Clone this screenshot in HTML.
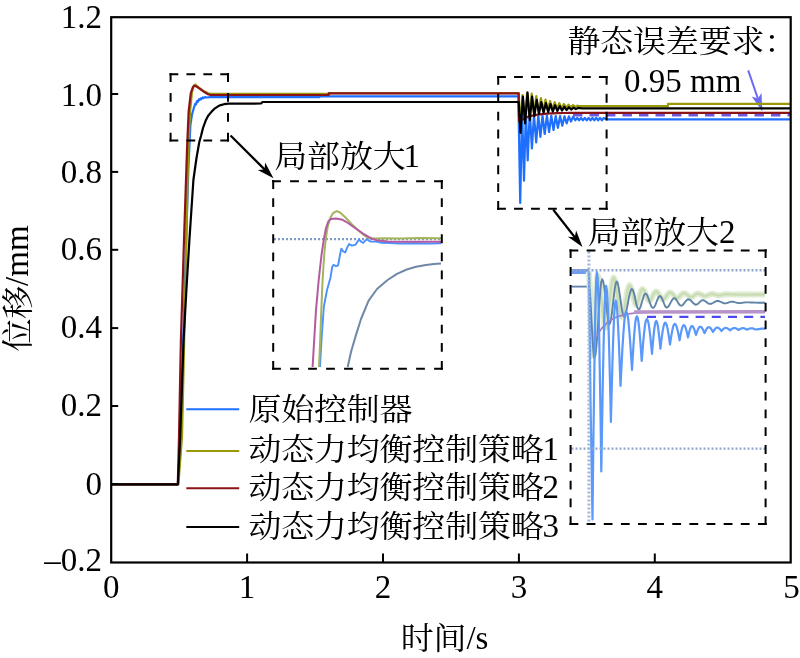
<!DOCTYPE html>
<html lang="zh"><head><meta charset="utf-8"><title>位移-时间</title>
<style>html,body{margin:0;padding:0;background:#fff;}body{width:800px;height:658px;overflow:hidden;}svg{display:block;}text{font-family:"Liberation Serif", "Noto Serif CJK SC", serif;fill:#000;}</style>
</head><body>
<svg width="800" height="658" viewBox="0 0 800 658">
<rect width="800" height="658" fill="#ffffff"/>
<path d="M748.2 70.4 L758.2 99.5" stroke="#6b6bf0" stroke-width="2.0"/>
<path d="M762.3 111.3 L751.7 96.5 L757.9 98.5 L761.5 93.1 Z" fill="#6b6bf0"/>
<path d="M111.2 484.3 L178.2 484.3 L181.5 400.0 L185.3 270.0 L188.3 170.0 L190.4 125.0 L192.0 114.5 L194.2 106.8 L195.2 103.8 L196.0 104.4 L197.0 101.2 L197.8 101.8 L198.8 99.4 L199.6 100.1 L200.6 98.3 L201.6 99.0 L202.6 97.5 L203.6 98.1 L205.0 97.1 L207.0 97.5 L210.0 97.2 L319.4 97.2 L319.4 96.3 L518.7 96.3 L518.7 118.0 L520.2 203.0 L522.1 110.8 L524.0 180.6 L525.9 110.8 L527.7 160.4 L529.8 110.8 L531.9 148.5 L534.0 114.9 L536.2 142.3 L538.3 115.1 L540.4 137.0 L542.5 115.3 L544.7 134.0 L546.9 115.5 L549.1 132.0 L551.3 115.6 L553.5 130.0 L555.7 115.8 L557.9 127.9 L560.1 116.0 L562.3 125.7 L564.5 116.2 L566.7 123.4 L568.9 116.4 L571.0 121.6 L573.1 116.6 L575.3 120.3 L577.2 117.9 L579.1 120.3 L581.0 117.9 L582.9 120.3 L584.8 117.9 L586.7 120.3 L588.6 117.9 L590.5 120.3 L592.4 117.9 L594.3 120.3 L596.2 117.9 L598.1 120.3 L600.0 117.9 L601.9 120.3 L603.8 117.9 L607.0 119.4 L790.7 119.4" fill="none" stroke="#1f6fff" stroke-width="2.20" stroke-linejoin="round" stroke-linecap="butt" />
<path d="M573 115.2 L790.7 115.2" stroke="#6a5ae0" stroke-width="2.4" stroke-dasharray="9.4 7.1" fill="none"/>
<path d="M111.2 484.3 L178.4 484.3 L182.0 437.0 L184.2 340.0 L186.3 240.0 L188.3 150.0 L190.0 112.0 L192.0 92.0 L194.0 85.2 L195.5 84.6 L197.0 86.0 L200.0 88.5 L204.0 91.3 L208.0 93.2 L211.0 93.9 L328.7 93.9 L328.7 93.2 L518.7 93.2 L520.1 126.2 L522.5 95.2 L524.8 120.2 L527.1 93.2 L529.4 117.2 L531.7 93.7 L534.0 114.2 L536.3 96.2 L538.6 112.2 L540.9 98.2 L543.2 111.0 L545.5 99.7 L547.8 110.2 L550.1 101.0 L552.4 109.5 L554.7 102.2 L557.0 108.8 L559.3 103.2 L561.6 108.2 L563.9 104.0 L566.2 107.7 L568.5 104.7 L570.8 107.2 L573.1 105.2 L575.4 106.8 L577.7 105.6 L578.0 106.2 L668.0 106.2 L668.0 103.8 L790.7 103.8" fill="none" stroke="#99990a" stroke-width="2.20" stroke-linejoin="round" stroke-linecap="butt" />
<path d="M111.2 484.3 L177.8 484.3 L179.0 437.0 L180.9 340.0 L184.0 240.0 L187.0 150.0 L188.6 112.0 L190.8 93.0 L193.0 86.8 L194.5 85.8 L196.5 86.5 L200.0 88.8 L204.0 91.8 L208.0 94.2 L210.5 95.0 L328.7 95.0 L328.7 93.4 L518.7 93.4 L518.7 110.0 L519.2 121.3 L520.2 120.6 L521.2 120.0 L522.2 119.4 L523.2 118.9 L524.2 118.4 L525.2 118.0 L526.2 117.5 L527.2 117.2 L528.2 116.8 L529.2 116.5 L530.2 116.2 L531.2 115.9 L532.2 115.7 L533.2 115.4 L534.2 115.2 L535.2 115.0 L536.2 114.9 L537.2 114.7 L538.2 114.5 L539.2 114.4 L540.2 114.3 L541.2 114.2 L542.2 114.1 L543.2 114.0 L544.2 113.9 L545.2 113.8 L546.2 113.7 L547.2 113.6 L548.2 113.6 L549.2 113.5 L550.2 113.4 L551.2 113.4 L552.2 113.3 L553.2 113.3 L554.2 113.3 L555.2 113.2 L556.2 113.2 L557.2 113.2 L558.2 113.1 L559.2 113.1 L560.2 113.1 L561.2 113.1 L562.2 113.0 L563.2 113.0 L564.2 113.0 L565.2 113.0 L566.2 113.0 L567.2 113.0 L568.2 112.9 L790.7 112.8" fill="none" stroke="#8b1418" stroke-width="2.20" stroke-linejoin="round" stroke-linecap="butt" />
<path d="M111.2 484.3 L177.9 484.3 L180.2 437.0 L183.6 340.0 L186.4 290.0 L189.4 240.0 L193.4 180.0 L196.5 158.0 L199.3 142.0 L201.0 136.0 L203.0 128.0 L205.6 120.8 L208.0 116.0 L211.6 111.6 L215.0 108.3 L218.0 106.3 L220.8 105.1 L224.0 104.2 L228.4 103.7 L261.0 103.5 L262.5 102.0 L518.7 102.0 L520.5 132.8 L522.9 96.7 L525.1 123.3 L527.5 92.4 L529.8 120.1 L532.1 96.7 L534.4 116.1 L536.7 99.9 L539.0 113.9 L541.3 102.0 L543.6 112.8 L545.9 103.1 L548.2 112.1 L550.5 104.1 L552.8 111.6 L555.1 105.2 L557.4 111.1 L559.7 106.1 L562.0 110.6 L564.3 106.7 L566.6 110.1 L568.9 107.2 L571.2 109.6 L573.5 107.6 L575.8 109.1 L578.1 107.9 L582.0 108.3 L790.7 108.3" fill="none" stroke="#000000" stroke-width="2.20" stroke-linejoin="round" stroke-linecap="butt" />
<rect x="111.2" y="17.2" width="679.5" height="545.3" fill="none" stroke="#000" stroke-width="2.2"/>
<path d="M111.2 94.0 h7" stroke="#000" stroke-width="2"/>
<path d="M111.2 171.9 h7" stroke="#000" stroke-width="2"/>
<path d="M111.2 249.8 h7" stroke="#000" stroke-width="2"/>
<path d="M111.2 328.1 h7" stroke="#000" stroke-width="2"/>
<path d="M111.2 406.0 h7" stroke="#000" stroke-width="2"/>
<path d="M111.2 484.0 h7" stroke="#000" stroke-width="2"/>
<path d="M247.1 562.5 v-9" stroke="#000" stroke-width="2"/>
<path d="M383.0 562.5 v-9" stroke="#000" stroke-width="2"/>
<path d="M518.9 562.5 v-9" stroke="#000" stroke-width="2"/>
<path d="M654.8 562.5 v-9" stroke="#000" stroke-width="2"/>
<text x="102" y="27.6" font-size="33" text-anchor="end">1.2</text>
<text x="102" y="106.0" font-size="33" text-anchor="end">1.0</text>
<text x="102" y="183.0" font-size="33" text-anchor="end">0.8</text>
<text x="102" y="260.0" font-size="33" text-anchor="end">0.6</text>
<text x="102" y="338.4" font-size="33" text-anchor="end">0.4</text>
<text x="102" y="416.2" font-size="33" text-anchor="end">0.2</text>
<text x="102" y="495.2" font-size="33" text-anchor="end">0</text>
<text x="102" y="571.3" font-size="33" text-anchor="end">–0.2</text>
<text x="111.2" y="597.7" font-size="33" text-anchor="middle">0</text>
<text x="247.1" y="597.7" font-size="33" text-anchor="middle">1</text>
<text x="383.0" y="597.7" font-size="33" text-anchor="middle">2</text>
<text x="518.9" y="597.7" font-size="33" text-anchor="middle">3</text>
<text x="654.8" y="597.7" font-size="33" text-anchor="middle">4</text>
<text x="791.5" y="597.7" font-size="33" text-anchor="middle">5</text>
<text transform="translate(400.8 648.5) scale(1 0.940)" font-size="33" letter-spacing="-0.2">时间</text>
<text transform="translate(400.8 648.5)" x="65.6" font-size="33">/s</text>
<text transform="translate(29.2 351.5) rotate(-90) scale(1 0.960)" font-size="33" letter-spacing="-0.2">位移</text>
<text transform="translate(28.2 285.9) rotate(-90) scale(1 1.040)" x="0.0" font-size="33">/mm</text>
<path d="M186.3 409.3 H239.2" stroke="#1f6fff" stroke-width="2"/>
<text transform="translate(248.4 419.8) scale(1 0.940)" font-size="33" letter-spacing="-0.2">原始控制器</text>
<path d="M186.3 451.0 H239.2" stroke="#99990a" stroke-width="2"/>
<text transform="translate(248.4 459.8) scale(1 0.940)" font-size="33" letter-spacing="-0.2">动态力均衡控制策略</text>
<text transform="translate(248.4 459.8)" x="294.2" font-size="33">1</text>
<path d="M186.3 488.3 H239.2" stroke="#8b1418" stroke-width="2"/>
<text transform="translate(248.4 497.8) scale(1 0.940)" font-size="33" letter-spacing="-0.2">动态力均衡控制策略</text>
<text transform="translate(248.4 497.8)" x="294.2" font-size="33">2</text>
<path d="M186.3 526.9 H239.2" stroke="#000000" stroke-width="2"/>
<text transform="translate(248.4 537.3) scale(1 0.940)" font-size="33" letter-spacing="-0.2">动态力均衡控制策略</text>
<text transform="translate(248.4 537.3)" x="294.2" font-size="33">3</text>
<text transform="translate(567.5 52.0) scale(1 0.940)" font-size="33" letter-spacing="-0.2">静态误差要求：</text>
<text transform="translate(624.0 91.8)" x="0.0" font-size="33">0.95 mm</text>
<text transform="translate(274.3 166.8) scale(1 0.940)" font-size="33" letter-spacing="-0.2">局部放大</text>
<text transform="translate(274.3 166.8)" x="129.2" font-size="33">1</text>
<text transform="translate(587.7 243.0) scale(1 0.940)" font-size="33" letter-spacing="-0.2">局部放大</text>
<text transform="translate(587.7 243.0)" x="131.2" font-size="33">2</text>
<path d="M169.5 74.2 L229.1 74.2" stroke="#000" stroke-width="2.0" stroke-dasharray="8.80 8.13" fill="none"/>
<path d="M169.5 140.5 L229.1 140.5" stroke="#000" stroke-width="2.0" stroke-dasharray="8.80 8.13" fill="none"/>
<path d="M170.6 73.1 L170.6 141.6" stroke="#000" stroke-width="2.0" stroke-dasharray="8.80 11.10" fill="none"/>
<path d="M228.0 73.1 L228.0 141.6" stroke="#000" stroke-width="2.0" stroke-dasharray="8.80 11.10" fill="none"/>
<path d="M497.1 77.1 L607.7 77.1" stroke="#000" stroke-width="2.0" stroke-dasharray="8.80 8.17" fill="none"/>
<path d="M497.1 208.8 L607.7 208.8" stroke="#000" stroke-width="2.0" stroke-dasharray="8.80 8.17" fill="none"/>
<path d="M498.2 76.0 L498.2 209.9" stroke="#000" stroke-width="2.0" stroke-dasharray="8.80 9.07" fill="none"/>
<path d="M606.6 76.0 L606.6 209.9" stroke="#000" stroke-width="2.0" stroke-dasharray="8.80 9.07" fill="none"/>
<path d="M230.5 135.5 L265.3 170.1" stroke="#000" stroke-width="2.2"/>
<path d="M273.5 178.2 L257.8 169.9 L264.6 169.4 L265.1 162.5 Z" fill="#000"/>
<path d="M553.3 209.8 L575.4 238.0" stroke="#000" stroke-width="2.2"/>
<path d="M582.5 247.0 L567.9 236.8 L574.8 237.2 L576.1 230.4 Z" fill="#000"/>
<g>
<path d="M274 239.2 H441" stroke="#7f9cc4" stroke-width="2.3" stroke-dasharray="2 2"/>
<path d="M347.7 367.0 L351.0 352.0 L355.7 335.9 L361.0 319.0 L368.5 300.8 L377.0 289.0 L387.6 280.0 L397.0 273.8 L406.7 269.5 L416.0 266.8 L425.9 265.0 L434.0 264.0 L441.0 263.5" fill="none" stroke="#6f88a8" stroke-width="2.00" stroke-linejoin="round" stroke-linecap="butt" />
<path d="M320.0 367.0 L321.5 340.0 L323.8 307.0 L327.0 290.0 L330.4 278.0 L332.2 267.0 L333.6 264.8 L336.0 266.2 L338.1 265.4 L339.8 256.0 L341.3 248.6 L343.3 251.5 L345.2 252.5 L347.2 247.5 L349.1 244.1 L352.0 245.6 L355.6 244.7 L357.5 241.5 L359.4 239.8 L361.5 242.0 L363.3 242.8 L365.2 240.5 L367.2 239.2 L369.0 240.8 L371.0 241.6 L376.0 241.6 L382.0 242.8 L390.0 243.0 L400.0 243.5 L415.0 243.2 L430.0 243.6 L441.0 243.2" fill="none" stroke="#4a90ff" stroke-width="1.90" stroke-linejoin="round" stroke-linecap="butt" />
<path d="M319.0 367.0 L320.2 340.0 L321.3 310.0 L322.6 280.0 L324.2 255.0 L325.8 239.0 L327.6 227.0 L330.0 218.5 L333.0 213.2 L336.8 211.1 L340.0 212.5 L345.0 217.0 L352.0 224.5 L360.7 232.5 L366.0 236.6 L369.8 238.3 L374.8 238.6 L385.0 238.2 L400.0 238.5 L420.0 238.0 L441.0 238.2" fill="none" stroke="#a3b55a" stroke-width="2.00" stroke-linejoin="round" stroke-linecap="butt" />
<path d="M312.6 367.0 L314.2 340.0 L316.0 310.0 L318.7 280.0 L321.5 255.0 L323.9 239.0 L326.0 228.0 L328.3 221.5 L331.0 218.9 L336.0 218.4 L342.6 219.8 L348.0 223.0 L355.0 228.0 L363.0 233.5 L369.0 237.2 L372.4 238.9 L378.0 240.6 L388.0 241.5 L400.0 241.8 L441.0 241.8" fill="none" stroke="#b35aa0" stroke-width="2.00" stroke-linejoin="round" stroke-linecap="butt" />
</g>
<path d="M272.1 181.2 L442.9 181.2" stroke="#000" stroke-width="2.0" stroke-dasharray="8.80 9.20" fill="none"/>
<path d="M272.1 368.7 L442.9 368.7" stroke="#000" stroke-width="2.0" stroke-dasharray="8.80 9.20" fill="none"/>
<path d="M273.2 180.1 L273.2 369.8" stroke="#000" stroke-width="2.0" stroke-dasharray="8.80 9.29" fill="none"/>
<path d="M441.8 180.1 L441.8 369.8" stroke="#000" stroke-width="2.0" stroke-dasharray="8.80 9.29" fill="none"/>
<g>
<path d="M571.5 271.5 H589" stroke="#6f9cf0" stroke-width="5"/>
<path d="M571.5 286.6 H589" stroke="#5f7fa8" stroke-width="1.8"/>
<path d="M588.6 271.5 L589.1 274.7 L589.7 283.9 L590.2 297.6 L590.8 313.8 L591.4 329.9 L591.9 343.6 L592.5 352.8 L593.0 356.0 L593.6 352.9 L594.2 344.2 L594.8 331.1 L595.4 315.7 L595.9 300.3 L596.5 287.2 L597.1 278.5 L597.7 275.4 L598.7 277.4 L599.7 283.1 L600.7 291.6 L601.7 301.7 L602.6 311.8 L603.6 320.3 L604.6 326.0 L605.6 328.0 L606.6 326.1 L607.6 320.6 L608.6 312.5 L609.6 302.9 L610.6 293.2 L611.6 285.1 L612.6 279.6 L613.6 277.7 L614.6 279.2 L615.6 283.5 L616.6 289.8 L617.6 297.3 L618.6 304.9 L619.6 311.2 L620.6 315.5 L621.6 317.0 L622.6 315.8 L623.6 312.4 L624.6 307.2 L625.6 301.2 L626.6 295.1 L627.6 289.9 L628.6 286.5 L629.6 285.3 L630.4 286.0 L631.2 288.2 L632.0 291.4 L632.8 295.1 L633.6 298.9 L634.4 302.1 L635.2 304.3 L636.0 305.0 L636.8 304.4 L637.6 302.7 L638.4 300.1 L639.2 297.0 L640.1 293.9 L640.9 291.3 L641.7 289.6 L642.5 289.0 L643.4 289.5 L644.2 290.8 L645.0 292.7 L645.9 295.0 L646.8 297.3 L647.6 299.2 L648.4 300.5 L649.3 301.0 L650.1 300.6 L651.0 299.6 L651.8 298.1 L652.6 296.2 L653.5 294.4 L654.3 292.9 L655.2 291.9 L656.0 291.5 L656.9 291.8 L657.8 292.7 L658.6 294.0 L659.5 295.5 L660.4 297.0 L661.2 298.3 L662.1 299.2 L663.0 299.5 L663.9 299.2 L664.8 298.5 L665.6 297.3 L666.5 296.0 L667.4 294.7 L668.2 293.5 L669.1 292.8 L670.0 292.5 L670.9 292.7 L671.8 293.3 L672.6 294.2 L673.5 295.2 L674.4 296.3 L675.2 297.2 L676.1 297.8 L677.0 298.0 L677.9 297.8 L678.8 297.3 L679.6 296.5 L680.5 295.6 L681.4 294.7 L682.2 293.9 L683.1 293.4 L684.0 293.2 L684.9 293.3 L685.8 293.8 L686.6 294.4 L687.5 295.1 L688.4 295.8 L689.2 296.4 L690.1 296.9 L691.0 297.0 L691.9 296.9 L692.8 296.5 L693.6 296.0 L694.5 295.3 L695.4 294.6 L696.2 294.1 L697.1 293.7 L698.0 293.6 L698.9 293.7 L699.8 294.0 L700.6 294.3 L701.5 294.8 L702.4 295.3 L703.2 295.6 L704.1 295.9 L705.0 296.0 L705.9 295.9 L706.8 295.7 L707.6 295.4 L708.5 295.0 L709.4 294.6 L710.2 294.3 L711.1 294.1 L712.0 294.0 L712.9 294.0 L713.8 294.2 L714.6 294.4 L715.5 294.6 L716.4 294.9 L717.2 295.1 L718.1 295.3 L719.0 295.3 L719.9 295.3 L720.8 295.2 L721.6 295.0 L722.5 294.8 L723.4 294.6 L724.2 294.4 L725.1 294.3 L726.0 294.3 L727.8 294.3 L729.5 294.3 L731.2 294.4 L733.0 294.4 L734.8 294.5 L736.5 294.6 L738.2 294.6 L740.0 294.6 L743.1 294.6 L746.2 294.6 L749.4 294.6 L752.5 294.6 L755.6 294.5 L758.8 294.5 L761.9 294.5 L765.0 294.5" fill="none" stroke="#e0ecd4" stroke-width="6.00" stroke-linejoin="round" stroke-linecap="butt" />
<path d="M588.6 271.5 L589.1 274.7 L589.7 283.9 L590.2 297.6 L590.8 313.8 L591.4 329.9 L591.9 343.6 L592.5 352.8 L593.0 356.0 L593.6 352.9 L594.2 344.2 L594.8 331.1 L595.4 315.7 L595.9 300.3 L596.5 287.2 L597.1 278.5 L597.7 275.4 L598.7 277.4 L599.7 283.1 L600.7 291.6 L601.7 301.7 L602.6 311.8 L603.6 320.3 L604.6 326.0 L605.6 328.0 L606.6 326.1 L607.6 320.6 L608.6 312.5 L609.6 302.9 L610.6 293.2 L611.6 285.1 L612.6 279.6 L613.6 277.7 L614.6 279.2 L615.6 283.5 L616.6 289.8 L617.6 297.3 L618.6 304.9 L619.6 311.2 L620.6 315.5 L621.6 317.0 L622.6 315.8 L623.6 312.4 L624.6 307.2 L625.6 301.2 L626.6 295.1 L627.6 289.9 L628.6 286.5 L629.6 285.3 L630.4 286.0 L631.2 288.2 L632.0 291.4 L632.8 295.1 L633.6 298.9 L634.4 302.1 L635.2 304.3 L636.0 305.0 L636.8 304.4 L637.6 302.7 L638.4 300.1 L639.2 297.0 L640.1 293.9 L640.9 291.3 L641.7 289.6 L642.5 289.0 L643.4 289.5 L644.2 290.8 L645.0 292.7 L645.9 295.0 L646.8 297.3 L647.6 299.2 L648.4 300.5 L649.3 301.0 L650.1 300.6 L651.0 299.6 L651.8 298.1 L652.6 296.2 L653.5 294.4 L654.3 292.9 L655.2 291.9 L656.0 291.5 L656.9 291.8 L657.8 292.7 L658.6 294.0 L659.5 295.5 L660.4 297.0 L661.2 298.3 L662.1 299.2 L663.0 299.5 L663.9 299.2 L664.8 298.5 L665.6 297.3 L666.5 296.0 L667.4 294.7 L668.2 293.5 L669.1 292.8 L670.0 292.5 L670.9 292.7 L671.8 293.3 L672.6 294.2 L673.5 295.2 L674.4 296.3 L675.2 297.2 L676.1 297.8 L677.0 298.0 L677.9 297.8 L678.8 297.3 L679.6 296.5 L680.5 295.6 L681.4 294.7 L682.2 293.9 L683.1 293.4 L684.0 293.2 L684.9 293.3 L685.8 293.8 L686.6 294.4 L687.5 295.1 L688.4 295.8 L689.2 296.4 L690.1 296.9 L691.0 297.0 L691.9 296.9 L692.8 296.5 L693.6 296.0 L694.5 295.3 L695.4 294.6 L696.2 294.1 L697.1 293.7 L698.0 293.6 L698.9 293.7 L699.8 294.0 L700.6 294.3 L701.5 294.8 L702.4 295.3 L703.2 295.6 L704.1 295.9 L705.0 296.0 L705.9 295.9 L706.8 295.7 L707.6 295.4 L708.5 295.0 L709.4 294.6 L710.2 294.3 L711.1 294.1 L712.0 294.0 L712.9 294.0 L713.8 294.2 L714.6 294.4 L715.5 294.6 L716.4 294.9 L717.2 295.1 L718.1 295.3 L719.0 295.3 L719.9 295.3 L720.8 295.2 L721.6 295.0 L722.5 294.8 L723.4 294.6 L724.2 294.4 L725.1 294.3 L726.0 294.3 L727.8 294.3 L729.5 294.3 L731.2 294.4 L733.0 294.4 L734.8 294.5 L736.5 294.6 L738.2 294.6 L740.0 294.6 L743.1 294.6 L746.2 294.6 L749.4 294.6 L752.5 294.6 L755.6 294.5 L758.8 294.5 L761.9 294.5 L765.0 294.5" fill="none" stroke="#c9dcb4" stroke-width="2.40" stroke-linejoin="round" stroke-linecap="butt" />
<path d="M588.8 286.6 L589.5 289.3 L590.2 297.1 L590.9 308.6 L591.6 322.3 L592.4 336.0 L593.1 347.5 L593.8 355.3 L594.5 358.0 L595.5 355.0 L596.4 346.5 L597.4 333.7 L598.4 318.6 L599.3 303.5 L600.3 290.7 L601.2 282.2 L602.2 279.2 L603.1 280.9 L604.0 285.8 L604.9 293.0 L605.9 301.6 L606.8 310.2 L607.7 317.4 L608.6 322.3 L609.5 324.0 L610.4 322.4 L611.3 317.8 L612.2 310.9 L613.1 302.8 L614.0 294.6 L614.9 287.7 L615.8 283.1 L616.7 281.5 L617.6 282.8 L618.5 286.6 L619.4 292.3 L620.4 298.9 L621.3 305.6 L622.2 311.3 L623.1 315.1 L624.0 316.4 L625.0 315.4 L626.0 312.4 L627.0 307.9 L628.0 302.7 L628.9 297.5 L629.9 293.0 L630.9 290.0 L631.9 289.0 L632.8 289.8 L633.6 292.0 L634.5 295.3 L635.3 299.2 L636.1 303.2 L637.0 306.5 L637.9 308.7 L638.7 309.5 L639.6 308.9 L640.4 307.2 L641.2 304.6 L642.1 301.6 L643.0 298.5 L643.8 295.9 L644.6 294.2 L645.5 293.6 L646.4 294.1 L647.4 295.7 L648.3 298.0 L649.2 300.8 L650.2 303.6 L651.1 305.9 L652.1 307.5 L653.0 308.0 L653.9 307.5 L654.8 306.2 L655.6 304.3 L656.5 302.0 L657.4 299.7 L658.2 297.8 L659.1 296.5 L660.0 296.0 L660.8 296.4 L661.7 297.7 L662.5 299.6 L663.4 301.8 L664.2 304.0 L665.0 305.9 L665.9 307.2 L666.7 307.6 L667.7 307.2 L668.6 306.2 L669.5 304.7 L670.5 302.9 L671.5 301.1 L672.4 299.6 L673.3 298.6 L674.3 298.2 L675.1 298.5 L676.0 299.3 L676.8 300.5 L677.6 301.9 L678.5 303.4 L679.3 304.6 L680.2 305.4 L681.0 305.7 L681.9 305.5 L682.9 304.8 L683.8 303.7 L684.8 302.5 L685.7 301.3 L686.6 300.2 L687.6 299.5 L688.5 299.3 L689.4 299.5 L690.4 300.1 L691.3 301.0 L692.2 302.0 L693.2 303.0 L694.1 303.9 L695.1 304.5 L696.0 304.7 L696.8 304.5 L697.7 304.0 L698.5 303.3 L699.4 302.4 L700.2 301.6 L701.0 300.9 L701.9 300.4 L702.7 300.2 L703.6 300.3 L704.5 300.7 L705.4 301.3 L706.4 302.0 L707.3 302.8 L708.2 303.4 L709.1 303.8 L710.0 303.9 L711.0 303.8 L711.9 303.5 L712.9 303.0 L713.9 302.4 L714.8 301.8 L715.8 301.3 L716.7 301.0 L717.7 300.9 L718.6 301.0 L719.5 301.3 L720.4 301.7 L721.4 302.1 L722.3 302.6 L723.2 303.0 L724.1 303.3 L725.0 303.4 L725.9 303.3 L726.8 303.1 L727.6 302.8 L728.5 302.5 L729.4 302.2 L730.2 301.9 L731.1 301.7 L732.0 301.6 L732.9 301.7 L733.8 301.8 L734.6 302.1 L735.5 302.4 L736.4 302.6 L737.2 302.9 L738.1 303.0 L739.0 303.1 L739.9 303.1 L740.8 303.0 L741.6 302.9 L742.5 302.8 L743.4 302.6 L744.2 302.5 L745.1 302.4 L746.0 302.4 L748.4 302.4 L750.8 302.5 L753.1 302.5 L755.5 302.6 L757.9 302.7 L760.2 302.7 L762.6 302.8 L765.0 302.8" fill="none" stroke="#5f84a8" stroke-width="1.90" stroke-linejoin="round" stroke-linecap="butt" />
<path d="M596.5 337.0 L597.0 335.8 L598.0 334.0 L599.0 332.4 L600.0 330.9 L601.0 329.4 L602.0 328.1 L603.0 326.9 L604.0 325.8 L605.0 324.8 L606.0 323.8 L607.0 322.9 L608.0 322.1 L609.0 321.3 L610.0 320.6 L611.0 320.0 L612.0 319.4 L613.0 318.8 L614.0 318.3 L615.0 317.8 L616.0 317.4 L617.0 317.0 L618.0 316.6 L619.0 316.2 L620.0 315.9 L621.0 315.6 L622.0 315.3 L623.0 315.0 L624.0 314.8 L625.0 314.6 L626.0 314.4 L627.0 314.2 L628.0 314.0 L629.0 313.8 L630.0 313.7 L631.0 313.6 L632.0 313.4 L633.0 313.3 L634.0 313.2 L635.0 313.1 L636.0 313.0 L637.0 312.9 L638.0 312.8 L639.0 312.7 L640.0 312.7 L641.0 312.6 L642.0 312.6 L643.0 312.5 L644.0 312.4 L645.0 312.4 L646.0 312.4" fill="none" stroke="#b27cc0" stroke-width="1.70" stroke-linejoin="round" stroke-linecap="butt" />
<path d="M634.0 312.0 L765.0 311.8" fill="none" stroke="#b693c8" stroke-width="3.40" stroke-linejoin="round" stroke-linecap="butt" />
<path d="M589.0 271.5 L590.5 400.0 L592.5 519.5 L593.2 455.4 L594.0 395.8 L594.7 344.5 L595.4 305.2 L596.2 280.4 L596.9 272.0 L597.6 278.8 L598.4 298.7 L599.1 330.4 L599.8 371.7 L600.6 419.8 L601.3 471.4 L602.1 423.4 L602.9 378.6 L603.7 340.1 L604.5 310.6 L605.3 292.1 L606.1 285.8 L606.9 290.4 L607.7 304.0 L608.5 325.6 L609.3 353.8 L610.1 386.7 L610.9 421.9 L611.7 390.5 L612.5 361.3 L613.3 336.1 L614.1 316.9 L614.9 304.7 L615.7 300.6 L616.5 303.5 L617.3 312.1 L618.1 325.6 L618.9 343.3 L619.7 363.9 L620.5 386.0 L621.5 366.7 L622.4 348.7 L623.4 333.2 L624.3 321.4 L625.3 313.9 L626.2 311.4 L627.2 313.4 L628.2 319.2 L629.1 328.5 L630.1 340.7 L631.0 354.8 L632.0 370.0 L632.8 356.1 L633.6 343.1 L634.4 331.9 L635.2 323.4 L636.0 318.0 L636.9 316.2 L637.7 317.7 L638.5 322.2 L639.3 329.3 L640.1 338.6 L640.9 349.4 L641.7 361.0 L642.6 350.1 L643.4 339.9 L644.3 331.2 L645.1 324.5 L646.0 320.3 L646.9 318.9 L647.7 320.1 L648.6 323.6 L649.4 329.2 L650.3 336.4 L651.1 344.9 L652.0 354.0 L652.7 345.5 L653.4 337.5 L654.1 330.7 L654.8 325.4 L655.5 322.1 L656.2 321.0 L656.9 321.9 L657.6 324.7 L658.3 329.1 L659.0 334.8 L659.7 341.5 L660.4 348.6 L661.2 341.9 L662.0 335.6 L662.8 330.2 L663.6 326.1 L664.4 323.5 L665.2 322.6 L666.0 323.3 L666.8 325.5 L667.6 329.0 L668.4 333.6 L669.2 338.8 L670.0 344.5 L670.8 339.2 L671.6 334.2 L672.4 329.9 L673.2 326.6 L674.0 324.5 L674.8 323.8 L675.6 324.4 L676.4 326.0 L677.2 328.7 L678.0 332.1 L678.8 336.1 L679.6 340.4 L680.3 336.4 L681.0 332.7 L681.7 329.6 L682.4 327.1 L683.1 325.6 L683.8 325.1 L684.5 325.5 L685.2 326.7 L685.9 328.7 L686.6 331.2 L687.3 334.2 L688.0 337.4 L688.7 334.4 L689.3 331.7 L690.0 329.3 L690.7 327.5 L691.3 326.3 L692.0 326.0 L692.7 326.3 L693.3 327.2 L694.0 328.6 L694.7 330.5 L695.3 332.7 L696.0 335.0 L696.7 332.8 L697.4 330.8 L698.1 329.1 L698.8 327.8 L699.5 327.0 L700.2 326.7 L701.0 326.9 L701.7 327.6 L702.4 328.6 L703.1 329.9 L703.8 331.5 L704.5 333.2 L705.2 331.7 L705.9 330.2 L706.6 329.0 L707.3 328.0 L708.0 327.4 L708.8 327.2 L709.5 327.4 L710.2 327.9 L710.9 328.6 L711.6 329.6 L712.3 330.8 L713.0 332.0 L713.7 330.9 L714.4 329.8 L715.1 328.9 L715.8 328.2 L716.5 327.7 L717.2 327.6 L718.0 327.7 L718.7 328.0 L719.4 328.6 L720.1 329.3 L720.8 330.1 L721.5 331.0 L722.2 330.2 L722.9 329.4 L723.6 328.8 L724.3 328.3 L725.0 328.0 L725.8 327.9 L726.5 328.0 L727.2 328.2 L727.9 328.6 L728.6 329.1 L729.3 329.7 L730.0 330.4 L730.7 329.8 L731.4 329.2 L732.1 328.7 L732.8 328.4 L733.5 328.1 L734.2 328.1 L735.0 328.1 L735.7 328.3 L736.4 328.6 L737.1 329.0 L737.8 329.5 L738.5 330.0 L739.2 329.5 L739.9 329.1 L740.6 328.7 L741.3 328.4 L742.0 328.2 L742.8 328.2 L743.5 328.2 L744.2 328.4 L744.9 328.6 L745.6 328.9 L746.3 329.3 L747.0 329.7 L747.7 329.3 L748.4 329.0 L749.1 328.7 L749.8 328.5 L750.5 328.3 L751.2 328.3 L752.0 328.3 L752.7 328.4 L753.4 328.6 L754.1 328.9 L754.8 329.2 L755.5 329.5 L757.1 329.3 L758.7 329.1 L760.2 328.9 L761.8 328.7 L763.4 328.6 L765.0 328.6" fill="none" stroke="#5a98fb" stroke-width="2.20" stroke-linejoin="round" stroke-linecap="butt" />
<path d="M647 316.8 H765" stroke="#4a4af0" stroke-width="2.2" stroke-dasharray="9 7.2"/>
<path d="M571.5 270.2 H765" stroke="#8ea6cc" stroke-width="2.4" stroke-dasharray="2 2"/>
<path d="M571.5 448.6 H765" stroke="#8ea6cc" stroke-width="2.4" stroke-dasharray="2 2"/>
<path d="M588.9 251.5 V523" stroke="#9fb6da" stroke-width="3" stroke-dasharray="2 2"/>
</g>
<path d="M569.5 250.4 L766.7 250.4" stroke="#000" stroke-width="2.0" stroke-dasharray="8.80 8.33" fill="none"/>
<path d="M569.5 524.0 L766.7 524.0" stroke="#000" stroke-width="2.0" stroke-dasharray="8.80 8.33" fill="none"/>
<path d="M570.6 249.3 L570.6 525.1" stroke="#000" stroke-width="2.0" stroke-dasharray="8.80 9.00" fill="none"/>
<path d="M765.6 249.3 L765.6 525.1" stroke="#000" stroke-width="2.0" stroke-dasharray="8.80 9.00" fill="none"/>
</svg>
</body></html>
